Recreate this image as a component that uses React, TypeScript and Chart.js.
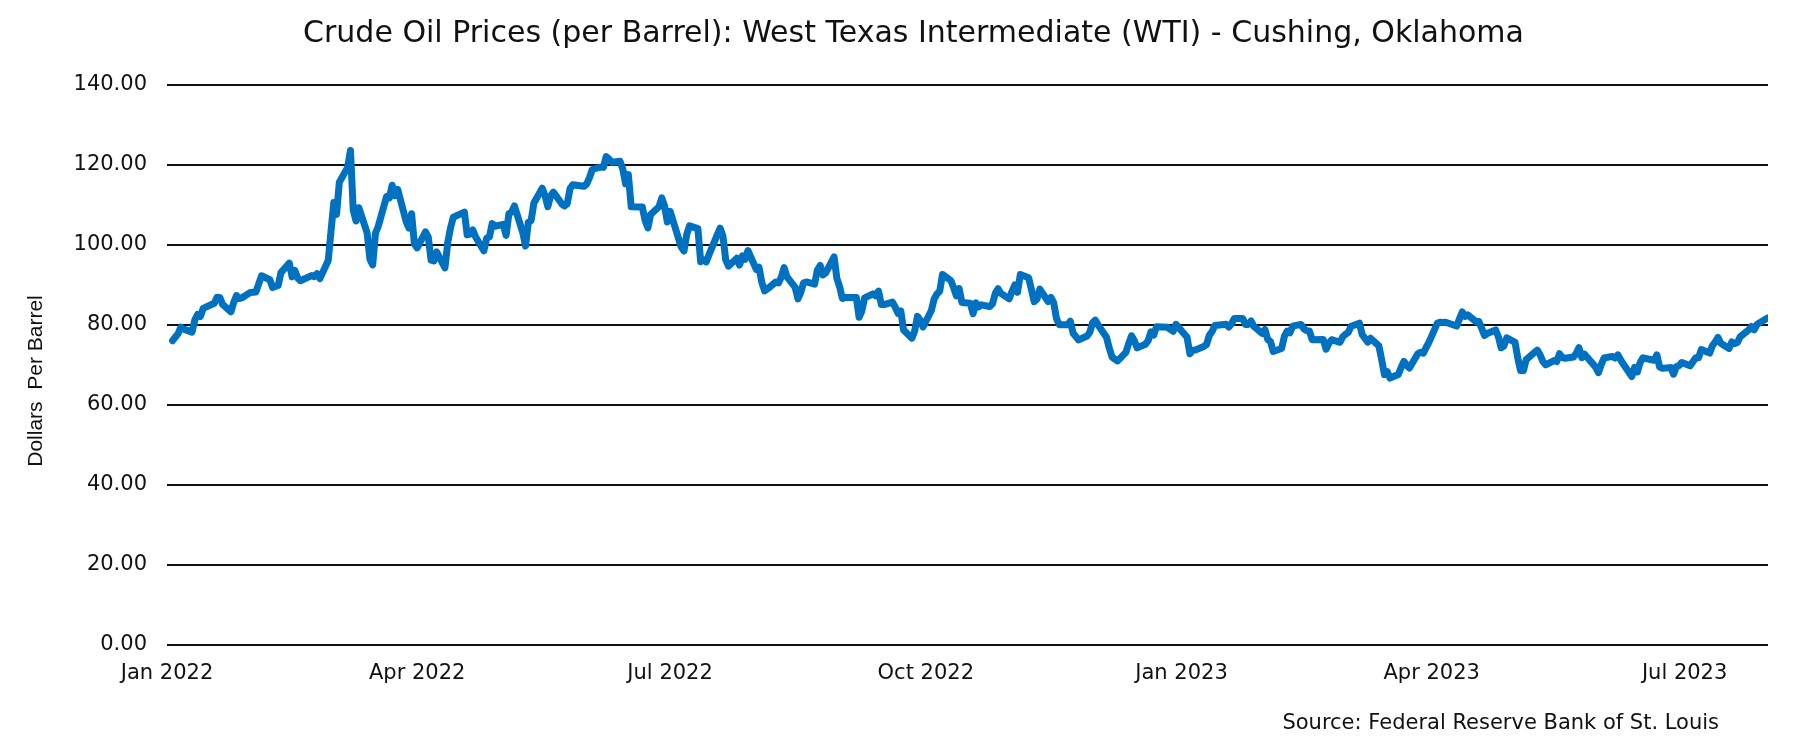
import React, { useEffect, useRef } from "react";
import { Chart, registerables } from "chart.js";

Chart.register(...registerables);

const chartTitle =
  "Crude Oil Prices (per Barrel): West Texas Intermediate (WTI) - Cushing, Oklahoma";
const yAxisTitle = "Dollars  Per Barrel";
const sourceNote = "Source: Federal Reserve Bank of St. Louis";

const yTicks = [0, 20, 40, 60, 80, 100, 120, 140];
const xTickDates = ["2022-01-01", "2022-04-01", "2022-07-01", "2022-10-01", "2023-01-01", "2023-04-01", "2023-07-01"];
const xTickLabels = ["Jan 2022", "Apr 2022", "Jul 2022", "Oct 2022", "Jan 2023", "Apr 2023", "Jul 2023"];

// trading days, one line per month
const dates = [
  "2022-01-03", "2022-01-04", "2022-01-05", "2022-01-06", "2022-01-07", "2022-01-10", "2022-01-11", "2022-01-12", "2022-01-13", "2022-01-14", "2022-01-18", "2022-01-19", "2022-01-20", "2022-01-21", "2022-01-24", "2022-01-25", "2022-01-26", "2022-01-27", "2022-01-28", "2022-01-31",
  "2022-02-01", "2022-02-02", "2022-02-03", "2022-02-04", "2022-02-07", "2022-02-08", "2022-02-09", "2022-02-10", "2022-02-11", "2022-02-14", "2022-02-15", "2022-02-16", "2022-02-17", "2022-02-18", "2022-02-22", "2022-02-23", "2022-02-24", "2022-02-25", "2022-02-28",
  "2022-03-01", "2022-03-02", "2022-03-03", "2022-03-04", "2022-03-07", "2022-03-08", "2022-03-09", "2022-03-10", "2022-03-11", "2022-03-14", "2022-03-15", "2022-03-16", "2022-03-17", "2022-03-18", "2022-03-21", "2022-03-22", "2022-03-23", "2022-03-24", "2022-03-25", "2022-03-28", "2022-03-29", "2022-03-30", "2022-03-31",
  "2022-04-01", "2022-04-04", "2022-04-05", "2022-04-06", "2022-04-07", "2022-04-08", "2022-04-11", "2022-04-12", "2022-04-13", "2022-04-14", "2022-04-18", "2022-04-19", "2022-04-20", "2022-04-21", "2022-04-22", "2022-04-25", "2022-04-26", "2022-04-27", "2022-04-28", "2022-04-29",
  "2022-05-02", "2022-05-03", "2022-05-04", "2022-05-05", "2022-05-06", "2022-05-09", "2022-05-10", "2022-05-11", "2022-05-12", "2022-05-13", "2022-05-16", "2022-05-17", "2022-05-18", "2022-05-19", "2022-05-20", "2022-05-23", "2022-05-24", "2022-05-25", "2022-05-26", "2022-05-27", "2022-05-31",
  "2022-06-01", "2022-06-02", "2022-06-03", "2022-06-06", "2022-06-07", "2022-06-08", "2022-06-09", "2022-06-10", "2022-06-13", "2022-06-14", "2022-06-15", "2022-06-16", "2022-06-17", "2022-06-21", "2022-06-22", "2022-06-23", "2022-06-24", "2022-06-27", "2022-06-28", "2022-06-29", "2022-06-30",
  "2022-07-01", "2022-07-05", "2022-07-06", "2022-07-07", "2022-07-08", "2022-07-11", "2022-07-12", "2022-07-13", "2022-07-14", "2022-07-15", "2022-07-18", "2022-07-19", "2022-07-20", "2022-07-21", "2022-07-22", "2022-07-25", "2022-07-26", "2022-07-27", "2022-07-28", "2022-07-29",
  "2022-08-01", "2022-08-02", "2022-08-03", "2022-08-04", "2022-08-05", "2022-08-08", "2022-08-09", "2022-08-10", "2022-08-11", "2022-08-12", "2022-08-15", "2022-08-16", "2022-08-17", "2022-08-18", "2022-08-19", "2022-08-22", "2022-08-23", "2022-08-24", "2022-08-25", "2022-08-26", "2022-08-29", "2022-08-30", "2022-08-31",
  "2022-09-01", "2022-09-02", "2022-09-06", "2022-09-07", "2022-09-08", "2022-09-09", "2022-09-12", "2022-09-13", "2022-09-14", "2022-09-15", "2022-09-16", "2022-09-19", "2022-09-20", "2022-09-21", "2022-09-22", "2022-09-23", "2022-09-26", "2022-09-27", "2022-09-28", "2022-09-29", "2022-09-30",
  "2022-10-03", "2022-10-04", "2022-10-05", "2022-10-06", "2022-10-07", "2022-10-10", "2022-10-11", "2022-10-12", "2022-10-13", "2022-10-14", "2022-10-17", "2022-10-18", "2022-10-19", "2022-10-20", "2022-10-21", "2022-10-24", "2022-10-25", "2022-10-26", "2022-10-27", "2022-10-28", "2022-10-31",
  "2022-11-01", "2022-11-02", "2022-11-03", "2022-11-04", "2022-11-07", "2022-11-08", "2022-11-09", "2022-11-10", "2022-11-11", "2022-11-14", "2022-11-15", "2022-11-16", "2022-11-17", "2022-11-18", "2022-11-21", "2022-11-22", "2022-11-23", "2022-11-25", "2022-11-28", "2022-11-29", "2022-11-30",
  "2022-12-01", "2022-12-02", "2022-12-05", "2022-12-06", "2022-12-07", "2022-12-08", "2022-12-09", "2022-12-12", "2022-12-13", "2022-12-14", "2022-12-15", "2022-12-16", "2022-12-19", "2022-12-20", "2022-12-21", "2022-12-22", "2022-12-23", "2022-12-27", "2022-12-28", "2022-12-29", "2022-12-30",
  "2023-01-03", "2023-01-04", "2023-01-05", "2023-01-06", "2023-01-09", "2023-01-10", "2023-01-11", "2023-01-12", "2023-01-13", "2023-01-17", "2023-01-18", "2023-01-19", "2023-01-20", "2023-01-23", "2023-01-24", "2023-01-25", "2023-01-26", "2023-01-27", "2023-01-30", "2023-01-31",
  "2023-02-01", "2023-02-02", "2023-02-03", "2023-02-06", "2023-02-07", "2023-02-08", "2023-02-09", "2023-02-10", "2023-02-13", "2023-02-14", "2023-02-15", "2023-02-16", "2023-02-17", "2023-02-21", "2023-02-22", "2023-02-23", "2023-02-24", "2023-02-27", "2023-02-28",
  "2023-03-01", "2023-03-02", "2023-03-03", "2023-03-06", "2023-03-07", "2023-03-08", "2023-03-09", "2023-03-10", "2023-03-13", "2023-03-14", "2023-03-15", "2023-03-16", "2023-03-17", "2023-03-20", "2023-03-21", "2023-03-22", "2023-03-23", "2023-03-24", "2023-03-27", "2023-03-28", "2023-03-29", "2023-03-30", "2023-03-31",
  "2023-04-03", "2023-04-04", "2023-04-05", "2023-04-06", "2023-04-10", "2023-04-11", "2023-04-12", "2023-04-13", "2023-04-14", "2023-04-17", "2023-04-18", "2023-04-19", "2023-04-20", "2023-04-21", "2023-04-24", "2023-04-25", "2023-04-26", "2023-04-27", "2023-04-28",
  "2023-05-01", "2023-05-02", "2023-05-03", "2023-05-04", "2023-05-05", "2023-05-08", "2023-05-09", "2023-05-10", "2023-05-11", "2023-05-12", "2023-05-15", "2023-05-16", "2023-05-17", "2023-05-18", "2023-05-19", "2023-05-22", "2023-05-23", "2023-05-24", "2023-05-25", "2023-05-26", "2023-05-30", "2023-05-31",
  "2023-06-01", "2023-06-02", "2023-06-05", "2023-06-06", "2023-06-07", "2023-06-08", "2023-06-09", "2023-06-12", "2023-06-13", "2023-06-14", "2023-06-15", "2023-06-16", "2023-06-20", "2023-06-21", "2023-06-22", "2023-06-23", "2023-06-26", "2023-06-27", "2023-06-28", "2023-06-29", "2023-06-30",
  "2023-07-03", "2023-07-05", "2023-07-06", "2023-07-07", "2023-07-10", "2023-07-11", "2023-07-12", "2023-07-13", "2023-07-14", "2023-07-17", "2023-07-18", "2023-07-19", "2023-07-20", "2023-07-21", "2023-07-24", "2023-07-25", "2023-07-26", "2023-07-27", "2023-07-28", "2023-07-31",
];

// dollars per barrel, same order as dates
const prices = [
  76.08, 76.99, 77.85, 79.46, 78.97, 78.23, 81.22, 82.64, 82.12, 84.15, 85.43, 86.96, 86.9, 85.14, 83.31, 85.6, 87.35, 86.61, 86.82, 88.15,
  88.2, 88.26, 90.27, 92.31, 91.32, 89.36, 89.66, 89.88, 93.1, 95.46, 92.07, 93.66, 91.76, 91.07, 92.35, 92.1, 92.81, 91.59, 96.13,
  103.41, 110.6, 107.67, 115.68, 119.4, 123.64, 108.7, 106.02, 109.33, 103.01, 96.44, 95.04, 102.98, 104.7, 112.12, 111.76, 114.93, 112.34, 113.9, 105.96, 104.24, 107.82, 100.28,
  99.27, 103.28, 101.96, 96.23, 96.03, 98.26, 94.29, 100.6, 104.25, 106.95, 108.21, 102.56, 102.75, 103.79, 102.07, 98.54, 101.7, 102.02, 105.36, 104.69,
  105.17, 102.41, 107.81, 108.26, 109.77, 103.09, 99.76, 105.71, 106.13, 110.49, 114.2, 112.4, 109.59, 112.21, 113.23, 110.29, 109.77, 110.33, 114.09, 115.07, 114.67,
  115.26, 116.87, 118.87, 119.5, 119.41, 122.11, 121.51, 120.67, 120.93, 118.93, 115.31, 117.58, 109.56, 109.52, 106.19, 104.27, 107.62, 109.57, 111.76, 109.78, 105.76,
  108.43, 99.5, 98.53, 102.73, 104.79, 104.09, 95.84, 96.3, 95.78, 97.59, 102.6, 104.22, 102.26, 96.35, 94.7, 96.7, 94.98, 97.26, 96.42, 98.62,
  93.89, 94.42, 90.66, 88.54, 89.01, 90.76, 90.5, 91.93, 94.34, 92.09, 89.41, 86.53, 88.11, 90.5, 90.77, 90.23, 93.74, 94.89, 92.52, 93.06, 97.01, 91.64, 89.55,
  86.61, 86.87, 86.88, 81.94, 83.54, 86.79, 87.78, 87.31, 88.48, 85.1, 85.11, 85.73, 84.45, 82.94, 83.49, 78.74, 76.71, 78.5, 82.15, 81.23, 79.49,
  83.63, 86.52, 87.76, 88.45, 92.64, 91.13, 89.35, 87.27, 89.11, 85.61, 85.46, 82.82, 85.55, 84.51, 85.05, 84.58, 85.32, 87.91, 89.08, 87.9, 86.53,
  88.37, 90.0, 88.17, 92.61, 91.79, 88.91, 85.83, 86.47, 88.96, 85.87, 86.92, 85.59, 81.64, 80.08, 80.04, 80.95, 77.94, 76.28, 77.24, 78.2, 80.55,
  81.22, 79.98, 76.93, 74.25, 72.01, 71.46, 71.02, 73.17, 75.39, 77.28, 76.11, 74.29, 75.19, 76.09, 78.29, 77.49, 79.56, 79.45, 78.89, 78.43, 80.16,
  76.93, 72.84, 73.67, 73.77, 74.63, 75.12, 77.41, 78.39, 79.86, 80.18, 79.48, 80.33, 81.64, 81.62, 80.13, 80.15, 81.01, 79.68, 77.9, 78.87,
  76.41, 75.88, 73.39, 74.11, 77.14, 78.47, 78.06, 79.72, 80.14, 79.06, 78.59, 78.49, 76.34, 76.36, 73.95, 75.39, 76.32, 75.68, 77.05,
  77.69, 78.16, 79.68, 80.46, 77.58, 76.66, 75.72, 76.68, 74.8, 71.33, 67.61, 68.35, 66.74, 67.64, 69.33, 70.9, 69.96, 69.26, 72.81, 73.2, 72.97, 74.37, 75.67,
  80.42, 80.71, 80.61, 80.7, 79.74, 81.53, 83.26, 82.16, 82.52, 80.83, 80.86, 79.16, 77.37, 77.87, 78.76, 77.07, 74.3, 74.76, 76.78,
  75.66, 71.66, 68.6, 68.56, 71.34, 73.16, 73.71, 72.56, 70.87, 70.04, 71.11, 70.86, 72.83, 71.86, 71.69, 71.99, 72.91, 74.34, 71.83, 72.67, 69.46, 68.09,
  70.1, 71.74, 72.15, 71.74, 72.53, 71.29, 70.17, 67.12, 69.42, 68.27, 70.62, 71.78, 71.19, 72.53, 69.51, 69.16, 69.37, 67.7, 69.56, 69.86, 70.64,
  69.79, 71.79, 71.8, 73.86, 72.99, 74.83, 75.75, 76.89, 75.42, 74.15, 75.75, 75.35, 75.63, 77.07, 78.74, 79.63, 78.78, 80.09, 80.58, 81.8,
];

const FONT = "'DejaVu Sans', Verdana, sans-serif";
const TEXT = "#111";

// days since 1 Jan 2022, used as the x value
const dayIndex = (iso: string) =>
  (Date.parse(iso + "T00:00:00Z") - Date.parse("2022-01-01T00:00:00Z")) / 86400000;

// y-axis title and source note
const extraText = {
  id: "extraText",
  afterDraw(chart: Chart) {
    const { ctx, chartArea } = chart;
    ctx.save();
    ctx.fillStyle = TEXT;
    ctx.font = "21px 'Liberation Sans', Arial, sans-serif";
    ctx.textAlign = "center";
    ctx.textBaseline = "middle";
    ctx.translate(chartArea.left - 131, (chartArea.top + chartArea.bottom) / 2 + 16);
    ctx.rotate(-Math.PI / 2);
    ctx.fillText(yAxisTitle, 0, 0);
    ctx.restore();

    ctx.save();
    ctx.fillStyle = TEXT;
    ctx.font = "21px " + FONT;
    ctx.textAlign = "right";
    ctx.textBaseline = "middle";
    ctx.fillText(sourceNote, chartArea.right - 49, chartArea.bottom + 79);
    ctx.restore();
  },
};

export default function App() {
  const canvasRef = useRef<HTMLCanvasElement | null>(null);
  const chartRef = useRef<Chart | null>(null);

  useEffect(() => {
    document.body.style.margin = "0";
    if (!canvasRef.current) return;
    const ctx = canvasRef.current.getContext("2d");
    if (!ctx) return;

    if (chartRef.current) chartRef.current.destroy();

    const points = dates.map((d, i) => ({ x: dayIndex(d), y: prices[i] }));

    chartRef.current = new Chart(ctx, {
      type: "line",
      data: {
        datasets: [
          {
            label: "WTI",
            data: points,
            borderColor: "#0070c0",
            borderWidth: 7,
            borderJoinStyle: "round",
            borderCapStyle: "round",
            pointRadius: 0,
            tension: 0,
          },
        ],
      },
      options: {
        responsive: true,
        maintainAspectRatio: false,
        animation: false,
        layout: { padding: { left: 59, right: 28, top: 0, bottom: 0 } },
        plugins: {
          legend: { display: false },
          tooltip: { enabled: false },
          title: {
            display: true,
            text: chartTitle,
            color: TEXT,
            font: { family: FONT, size: 30, weight: "normal" },
            padding: { top: 16, bottom: 33 },
          },
        },
        scales: {
          x: {
            type: "linear",
            min: dayIndex(xTickDates[0]),
            max: dayIndex(dates[dates.length - 1]),
            afterBuildTicks: (scale: any) => {
              scale.ticks = xTickDates.map((d) => ({ value: dayIndex(d) }));
            },
            afterFit: (scale: any) => {
              scale.height = 107;
            },
            grid: { display: false, drawTicks: false },
            border: { display: false },
            ticks: {
              autoSkip: false,
              maxRotation: 0,
              padding: 16,
              color: TEXT,
              font: { family: FONT, size: 21 },
              callback: (_v: any, i: number) => xTickLabels[i],
            },
          },
          y: {
            min: yTicks[0],
            max: yTicks[yTicks.length - 1],
            afterBuildTicks: (scale: any) => {
              scale.ticks = yTicks.map((v) => ({ value: v }));
            },
            afterFit: (scale: any) => {
              scale.width = 108;
            },
            grid: { color: "#111", lineWidth: 2, drawTicks: false },
            border: { display: false },
            ticks: {
              padding: 20,
              color: TEXT,
              font: { family: FONT, size: 21 },
              callback: (v: any) => Number(v).toFixed(2),
            },
          },
        },
      },
      plugins: [extraText],
    });

    return () => {
      if (chartRef.current) {
        chartRef.current.destroy();
        chartRef.current = null;
      }
    };
  }, []);

  return (
    <div style={{ width: 1796, height: 752, position: "relative", background: "#fff" }}>
      <canvas ref={canvasRef} />
    </div>
  );
}
